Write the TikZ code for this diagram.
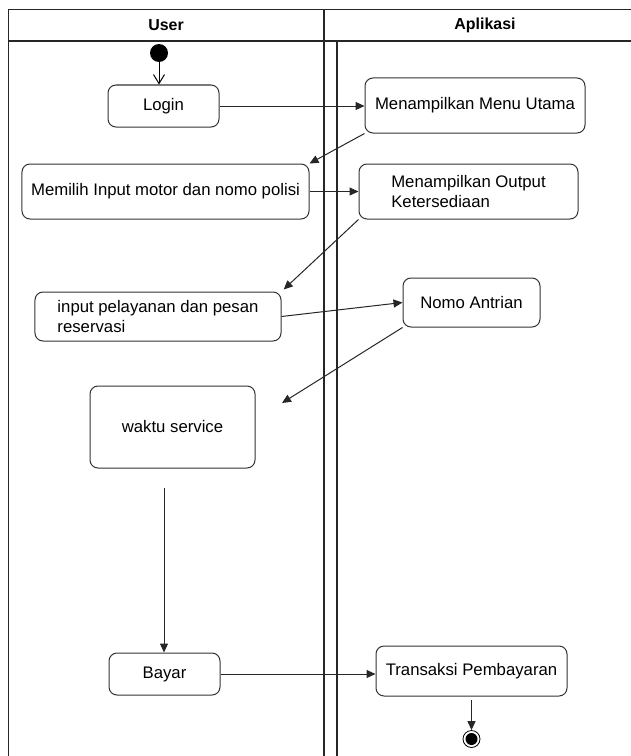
\documentclass[tikz,border=0pt]{standalone}
\usepackage{fontspec}
\setmainfont{Liberation Sans}
\usetikzlibrary{arrows.meta}
\tikzset{>={Triangle[length=9bp,width=8bp]}}
\tikzset{
  lane/.style={line width=1.3bp,black!85},
  act/.style={draw=black!80,line width=1bp,rounded corners=8bp,inner sep=0pt,
    font=\fontsize{16.8}{20}\selectfont},
  flow/.style={->,line width=1bp,black!85},
  lanehead/.style={font=\bfseries\fontsize{16}{20}\selectfont},
}

\begin{document}
\begin{tikzpicture}[x=1bp,y=-1bp]
\useasboundingbox (0,0) rectangle (631,756);
% swimlanes
\draw[lane] (8.7,756) -- (8.7,9.5) -- (631,9.5);
\draw[lane] (8.7,41) -- (631,41);
\draw[lane] (324,9.5) -- (324,756);
\draw[lane] (337,41) -- (337,756);
\node[lanehead] (huser) at (166,25) {User};
\node[lanehead] (happ) at (485,25) {Aplikasi};
% activities
\node[circle,fill=black,minimum size=18bp,inner sep=0pt] (start) at (159,53) {};
\node[act,minimum width=111bp,minimum height=42bp] (login) at (163.5,106) {Login};
\node[act,minimum width=220bp,minimum height=55bp] (menu) at (475,105.5) {Menampilkan Menu Utama};
\node[act,minimum width=287bp,minimum height=55bp] (memilih) at (165.5,191.5) {Memilih Input motor dan nomo polisi};
\node[act,minimum width=219bp,minimum height=55bp,align=left] (output) at (468.5,191.5) {Menampilkan Output\\Ketersediaan};
\node[act,minimum width=246bp,minimum height=49bp,align=left] (input) at (158,316.5) {input pelayanan dan pesan\\reservasi};
\node[act,minimum width=137bp,minimum height=49bp] (nomo) at (471.5,302.5) {Nomo Antrian};
\node[act,minimum width=165bp,minimum height=82bp] (waktu) at (172.5,427) {waktu service};
\node[act,minimum width=111bp,minimum height=42bp] (bayar) at (164.5,674) {Bayar};
\node[act,minimum width=191bp,minimum height=50bp] (transaksi) at (471.5,671) {Transaksi Pembayaran};
\node[circle,draw,line width=0.8bp,minimum size=17bp,inner sep=0pt] (end) at (471.5,739) {};
\fill (end) circle (6);
% free ends
\coordinate (nomoend) at (282,403);
\coordinate (waktuout) at (164,488);
\coordinate (transout) at (471.5,700);
% flows
\draw[line width=1bp,-{Straight Barb[length=9bp,width=11bp]}] (start) -- (start |- login.north);
\draw[flow] (login.east) -- (login.east -| menu.west);
\draw[flow] (menu.south west) -- (memilih.north east);
\draw[flow] (memilih.east) -- (output.west);
\draw[flow,shorten >=3bp] (output.south west) -- (input.north east);
\draw[flow] (input.east) -- (nomo.west);
\draw[flow] (nomo.south west) -- (nomoend);
\draw[flow] (waktuout) -- (waktuout |- bayar.north);
\draw[flow] (bayar.east) -- (bayar.east -| transaksi.west);
\draw[flow] (transout) -- (end.north);
\end{tikzpicture}
\end{document}
